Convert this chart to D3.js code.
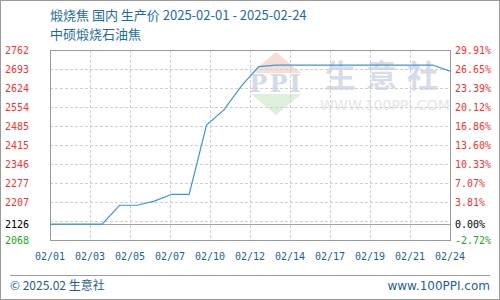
<!DOCTYPE html>
<html>
<head>
<meta charset="utf-8">
<script src="https://cdn.jsdelivr.net/npm/d3@7"></script>
<style>
  html, body { margin: 0; padding: 0; background: #fff; }
  svg { display: block; }
</style>
</head>
<body>
<div id="chart"></div>
<script>
// ---- data -------------------------------------------------------------------
const titleLine1 = '煅烧焦 国内 生产价 2025-02-01 - 2025-02-24';
const titleLine2 = '中硕煅烧石油焦';

const dates = [
  '2025-02-01', '2025-02-02', '2025-02-03', '2025-02-04', '2025-02-05', '2025-02-06',
  '2025-02-07', '2025-02-08', '2025-02-09', '2025-02-10', '2025-02-11', '2025-02-12',
  '2025-02-13', '2025-02-14', '2025-02-15', '2025-02-16', '2025-02-17', '2025-02-18',
  '2025-02-19', '2025-02-20', '2025-02-21', '2025-02-22', '2025-02-23', '2025-02-24'
];
const prices = [
  2126, 2126, 2126, 2126, 2195, 2195,
  2210, 2235, 2235, 2488, 2543, 2630,
  2701, 2707, 2707, 2707, 2707, 2707,
  2707, 2707, 2707, 2707, 2707, 2685
];

const basePrice = 2126;
const yMin = 2068, yMax = 2762;
const leftLabels  = ['2762', '2693', '2624', '2554', '2485', '2415', '2346', '2277', '2207'];
const rightLabels = ['29.91%', '26.65%', '23.39%', '20.12%', '16.86%', '13.60%', '10.33%', '7.07%', '3.81%'];
const baseLabels  = { left: '2126', right: '0.00%' };
const minLabels   = { left: '2068', right: '-2.72%' };
const xLabels = ['02/01', '02/03', '02/05', '02/07', '02/10', '02/12', '02/14', '02/17', '02/19', '02/21', '02/24'];

// ---- layout -----------------------------------------------------------------
const W = 500, H = 300;
const plot = { left: 50, right: 450, top: 50, bottom: 240 };
const parse = d3.timeParse('%Y-%m-%d');
const series = dates.map((d, i) => ({ date: parse(d), value: prices[i] }));

const x = d3.scaleTime()
  .domain(d3.extent(series, d => d.date))
  .range([plot.left, plot.right]);
const y = d3.scaleLinear()
  .domain([yMin, yMax])
  .range([plot.bottom, plot.top]);

const svg = d3.select('#chart').append('svg')
  .attr('width', W).attr('height', H)
  .style('font-family', '"Noto Sans CJK SC", "Noto Sans", sans-serif');

svg.append('rect')
  .attr('x', 0.5).attr('y', 0.5).attr('width', W - 1).attr('height', H - 1)
  .attr('fill', '#fff').attr('stroke', '#9a9a9a');

// ---- titles -----------------------------------------------------------------
svg.append('text').attr('x', 50).attr('y', 20)
  .attr('font-size', 13).attr('fill', '#1f6c9c').text(titleLine1);
svg.append('text').attr('x', 50).attr('y', 39)
  .attr('font-size', 13).attr('fill', '#1f6c9c').text(titleLine2);

// ---- watermark --------------------------------------------------------------
const wm = svg.append('g');
wm.append('path').attr('d', 'M276,52 L301,73 L251,73 Z').attr('fill', '#f8dcd6');
wm.append('text').attr('x', 276).attr('y', 92).attr('text-anchor', 'middle')
  .attr('font-size', 24).attr('font-family', 'DejaVu Serif, serif').attr('font-weight', 'bold')
  .attr('fill', '#d3dae8').attr('letter-spacing', 2).text('PPI');
wm.append('path').attr('d', 'M251,94 L301,94 L276,115 Z').attr('fill', '#dcf0dc');
wm.append('text').attr('x', 325).attr('y', 87)
  .attr('font-size', 31).attr('font-weight', 'bold').attr('fill', '#d6dce9')
  .attr('letter-spacing', 10).text('生意社');
wm.append('text').attr('x', 385).attr('y', 110).attr('text-anchor', 'middle')
  .attr('font-size', 14).attr('font-family', 'DejaVu Sans, sans-serif')
  .attr('fill', '#e6e6e6').text('WWW.100PPI.COM');

// ---- grid -------------------------------------------------------------------
const yStep = (yMax - yMin) / 10;
const gridVals = d3.range(1, 10).map(i => yMax - i * yStep);
const xTicks = d3.range(0, 11).map(i =>
  new Date(x.domain()[0].getTime() + i * (x.domain()[1] - x.domain()[0]) / 10));

const grid = svg.append('g').attr('stroke', '#cfcfcf').attr('stroke-dasharray', '3,2');
grid.selectAll('line.h').data(gridVals).join('line').attr('class', 'h')
  .attr('x1', plot.left).attr('x2', plot.right)
  .attr('y1', d => Math.round(y(d)) + 0.5).attr('y2', d => Math.round(y(d)) + 0.5);
grid.selectAll('line.v').data(xTicks.slice(1, -1)).join('line').attr('class', 'v')
  .attr('y1', plot.top).attr('y2', plot.bottom)
  .attr('x1', d => Math.round(x(d)) + 0.5).attr('x2', d => Math.round(x(d)) + 0.5);

// base line (0%)
svg.append('line')
  .attr('x1', plot.left).attr('x2', plot.right)
  .attr('y1', Math.round(y(basePrice)) + 0.5).attr('y2', Math.round(y(basePrice)) + 0.5)
  .attr('stroke', '#a0a0a0');

// frame
svg.append('rect')
  .attr('x', plot.left + 0.5).attr('y', plot.top + 0.5)
  .attr('width', plot.right - plot.left).attr('height', plot.bottom - plot.top)
  .attr('fill', 'none').attr('stroke', '#9a9a9a');

// ---- line -------------------------------------------------------------------
const line = d3.line().x(d => x(d.date)).y(d => y(d.value));
svg.append('path').datum(series)
  .attr('d', line).attr('fill', 'none')
  .attr('stroke', '#3b98d6').attr('stroke-width', 1.2);

// ---- axis labels ------------------------------------------------------------
const mono = 'DejaVu Sans Mono, monospace';
const labels = svg.append('g').attr('font-family', mono).attr('font-size', 10);

labels.selectAll('text.l').data(leftLabels).join('text').attr('class', 'l')
  .attr('x', 29).attr('y', (d, i) => y(yMax - i * yStep) + 3.5)
  .attr('text-anchor', 'end').attr('fill', '#ff3030').text(d => d);
labels.append('text').attr('x', 29).attr('y', y(basePrice) + 3.5)
  .attr('text-anchor', 'end').attr('fill', '#000').text(baseLabels.left);
labels.append('text').attr('x', 29).attr('y', y(yMin) + 3.5)
  .attr('text-anchor', 'end').attr('fill', '#22aa22').text(minLabels.left);

labels.selectAll('text.r').data(rightLabels).join('text').attr('class', 'r')
  .attr('x', 455).attr('y', (d, i) => y(yMax - i * yStep) + 3.5)
  .attr('fill', '#ff3030').text(d => d);
labels.append('text').attr('x', 455).attr('y', y(basePrice) + 3.5)
  .attr('fill', '#000').text(baseLabels.right);
labels.append('text').attr('x', 455).attr('y', y(yMin) + 3.5)
  .attr('fill', '#22aa22').text(minLabels.right);

labels.selectAll('text.x').data(xTicks).join('text').attr('class', 'x')
  .attr('x', d => x(d)).attr('y', 260)
  .attr('text-anchor', 'middle').attr('fill', '#1f5f8f')
  .text((d, i) => xLabels[i]);

// ---- footer -----------------------------------------------------------------
svg.append('line').attr('x1', 10).attr('x2', 490).attr('y1', 275.5).attr('y2', 275.5)
  .attr('stroke', '#9a9a9a');
svg.append('text').attr('x', 10).attr('y', 290)
  .attr('font-size', 12).attr('fill', '#1f5f8f').text('© 2025.02 生意社');
svg.append('text').attr('x', 490).attr('y', 290).attr('text-anchor', 'end')
  .attr('font-size', 12).attr('font-family', 'DejaVu Sans, sans-serif')
  .attr('fill', '#1f5f8f').text('www.100PPI.com');
</script>
</body>
</html>
